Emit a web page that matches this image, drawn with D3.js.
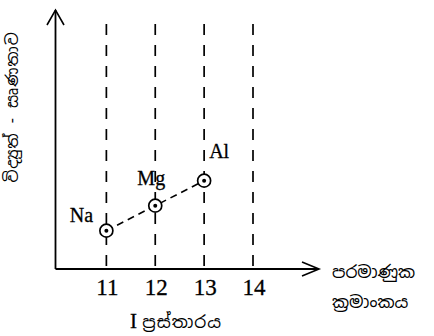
<!DOCTYPE html>
<html>
<head>
<meta charset="utf-8">
<script src="https://cdn.jsdelivr.net/npm/d3@7"></script>
<style>
body { margin:0; background:#fff; }
.num { font-family: "Liberation Serif", "Times New Roman", serif; fill:#000; stroke:#000; stroke-width:0.3px; }
.si { font-family: "Noto Sans Sinhala", "Noto Sans", sans-serif; fill:#000; }
</style>
</head>
<body>
<div id="chart"></div>
<script>
// atomic numbers on the x axis
var atomicNumbers = [11, 12, 13, 14];
// points: element symbol, atomic number, electronegativity
var elements = ["Na", "Mg", "Al"];
var elementX = [11, 12, 13];
var electroneg = [0.9, 1.2, 1.5];

var width = 434, height = 336;

var svg = d3.select("#chart").append("svg")
     .attr("width", width)
     .attr("height", height);

var x = d3.scaleLinear().domain([10, 14]).range([57.5, 253]);
var y = d3.scaleLinear().domain([0.44, 3.5]).range([269, 14]);

var data = elements.map(function(e, i){
	return {name: e, n: elementX[i], v: electroneg[i]};
});

// dashed verticals
svg.selectAll(".vline")
     .data(atomicNumbers)
     .enter().append("line")
     .attr("x1", function(d){ return x(d); })
     .attr("x2", function(d){ return x(d); })
     .attr("y1", 24)
     .attr("y2", 269)
     .attr("stroke", "#000")
     .attr("stroke-width", 1.7)
     .attr("stroke-dasharray", "11,10");

// axes
svg.append("line")
     .attr("x1", 55.5).attr("x2", 55.5)
     .attr("y1", 269).attr("y2", 10)
     .attr("stroke", "#000").attr("stroke-width", 1.8);
svg.append("path")
     .attr("d", "M47,25 L55.5,10 L64,25")
     .attr("fill", "none").attr("stroke", "#000").attr("stroke-width", 1.6);

svg.append("line")
     .attr("x1", 55.5).attr("x2", 318)
     .attr("y1", 269).attr("y2", 269)
     .attr("stroke", "#000").attr("stroke-width", 1.8);
svg.append("path")
     .attr("d", "M302,262 L319,269 L302,276")
     .attr("fill", "none").attr("stroke", "#000").attr("stroke-width", 1.6);

// tick labels
svg.selectAll(".tick")
     .data(atomicNumbers)
     .enter().append("text")
     .attr("class", "num")
     .attr("x", function(d){ return x(d) + 1; })
     .attr("y", 295)
     .attr("text-anchor", "middle")
     .style("font-size", "23px")
     .text(function(d){ return d; });

// connecting dashed line
var valueline = d3.line()
     .x(function(d){ return x(d.n); })
     .y(function(d){ return y(d.v); });
svg.append("path")
     .datum(data)
     .attr("d", valueline)
     .attr("fill", "none")
     .attr("stroke", "#000")
     .attr("stroke-width", 1.6)
     .attr("stroke-dasharray", "7,5");

// points
svg.selectAll(".pt")
     .data(data)
     .enter().append("circle")
     .attr("cx", function(d){ return x(d.n); })
     .attr("cy", function(d){ return y(d.v); })
     .attr("r", 6.5)
     .attr("fill", "#fff")
     .attr("stroke", "#000")
     .attr("stroke-width", 1.7);
svg.selectAll(".dot")
     .data(data)
     .enter().append("circle")
     .attr("cx", function(d){ return x(d.n); })
     .attr("cy", function(d){ return y(d.v); })
     .attr("r", 2)
     .attr("fill", "#000");

// element labels
var labelOff = {Na: [-25, -9], Mg: [-4, -21], Al: [15, -23]};
svg.selectAll(".lab")
     .data(data)
     .enter().append("text")
     .attr("class", "num")
     .attr("x", function(d){ return x(d.n) + labelOff[d.name][0]; })
     .attr("y", function(d){ return y(d.v) + labelOff[d.name][1]; })
     .attr("text-anchor", "middle")
     .style("font-size", "20px")
     .text(function(d){ return d.name; });

// axis titles
svg.append("text")
     .attr("class", "si")
     .attr("transform", "translate(18,107) rotate(-90)")
     .attr("text-anchor", "middle")
     .style("font-size", "16px")
     .style("letter-spacing", "1px")
     .text("විද්‍යුත් - සෘණතාව");

svg.append("text")
     .attr("class", "si")
     .attr("x", 332).attr("y", 278)
     .style("font-size", "17px")
     .text("පරමාණුක");
svg.append("text")
     .attr("class", "si")
     .attr("x", 332).attr("y", 308)
     .style("font-size", "17px")
     .text("ක්‍රමාංකය");

var title = svg.append("text")
     .attr("x", 176).attr("y", 328)
     .attr("text-anchor", "middle");
title.append("tspan").attr("class", "num").style("font-size", "21px").text("I ");
title.append("tspan").attr("class", "si").style("font-size", "17px")
     .style("letter-spacing", "1px").text("ප්‍රස්තාරය");
</script>
</body>
</html>
